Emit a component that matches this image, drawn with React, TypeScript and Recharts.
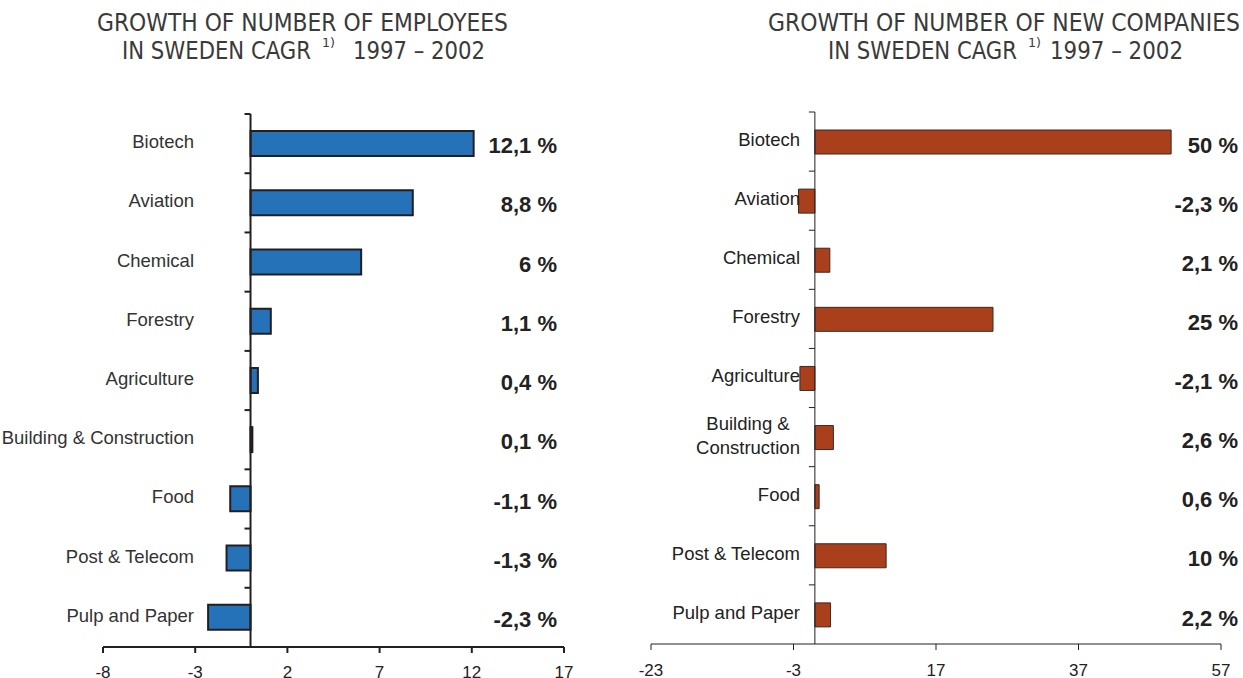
import React from "react";
import { BarChart, Bar, XAxis, YAxis, ReferenceLine, LabelList } from "recharts";

const categories = [
  "Biotech",
  "Aviation",
  "Chemical",
  "Forestry",
  "Agriculture",
  "Building & Construction",
  "Food",
  "Post & Telecom",
  "Pulp and Paper",
];
const companyCategories = [
  "Biotech",
  "Aviation",
  "Chemical",
  "Forestry",
  "Agriculture",
  "Building &\nConstruction",
  "Food",
  "Post & Telecom",
  "Pulp and Paper",
];
const employeeGrowth = [12.1, 8.8, 6, 1.1, 0.4, 0.1, -1.1, -1.3, -2.3];
const employeeLabels = ["12,1 %", "8,8 %", "6 %", "1,1 %", "0,4 %", "0,1 %", "-1,1 %", "-1,3 %", "-2,3 %"];
const companyGrowth = [50, -2.3, 2.1, 25, -2.1, 2.6, 0.6, 10, 2.2];
const companyLabels = ["50 %", "-2,3 %", "2,1 %", "25 %", "-2,1 %", "2,6 %", "0,6 %", "10 %", "2,2 %"];
const employeeTicks = [-8, -3, 2, 7, 12, 17];
const companyTicks = [-23, -3, 17, 37, 57];

const employeeData = categories.map((name, i) => ({ name, v: employeeGrowth[i], label: employeeLabels[i] }));
const companyData = companyCategories.map((name, i) => ({ name, v: companyGrowth[i], label: companyLabels[i] }));

const FONT = "'Liberation Sans', Arial, Helvetica, sans-serif";
const NARROW = "'Liberation Sans Narrow', 'DejaVu Sans Condensed', 'Liberation Sans', sans-serif";
const DARK = "#231f20";

function makeCatTick(shift: number, color: string) {
  return (props: any) => {
    const { x, y, payload } = props;
    const lines = String(payload.value).split("\n");
    if (lines.length > 1) {
      return (
        <g>
          <text x={x + shift - 52} y={y - 14} textAnchor="middle" dy="0.35em" fontSize={18.5} fontFamily={FONT} fill={color}>
            {lines[0]}
          </text>
          <text x={x + shift - 52} y={y + 10} textAnchor="middle" dy="0.35em" fontSize={18.5} fontFamily={FONT} fill={color}>
            {lines[1]}
          </text>
        </g>
      );
    }
    return (
      <text x={x + shift} y={y - 2} textAnchor="end" dy="0.35em" fontSize={18.5} fontFamily={FONT} fill={color}>
        {lines[0]}
      </text>
    );
  };
}

function makeZeroAxis(count: number, stroke: string, width: number, tickLen: number) {
  return (props: any) => {
    const { x1, y1, y2 } = props;
    const top = Math.min(y1, y2);
    const bottom = Math.max(y1, y2);
    const step = (bottom - top) / count;
    const ticks = [];
    for (let i = 0; i < count; i++) {
      const ty = top + i * step;
      ticks.push(<line key={i} x1={x1 - tickLen} x2={x1} y1={ty} y2={ty} stroke={stroke} strokeWidth={width} />);
    }
    return (
      <g>
        <line x1={x1} x2={x1} y1={top} y2={bottom} stroke={stroke} strokeWidth={width} />
        {ticks}
      </g>
    );
  };
}

function makeValueLabel(xEnd: number, data: { label: string }[], dyShift: number) {
  return (props: any) => {
    const { y, height, index } = props;
    return (
      <text
        x={xEnd}
        y={y + height / 2 + dyShift}
        textAnchor="end"
        dy="0.35em"
        fontSize={22}
        fontWeight="bold"
        fontFamily={FONT}
        fill="#222"
      >
        {data[index].label}
      </text>
    );
  };
}

function Titles() {
  const common = { fontFamily: NARROW, fill: "#3a3a3a", lengthAdjust: "spacingAndGlyphs" as const };
  return (
    <svg width={1243} height={70} style={{ position: "absolute", left: 0, top: 0 }}>
      <text x={97} y={31} fontSize={24} textLength={411} {...common}>GROWTH OF NUMBER OF EMPLOYEES</text>
      <text x={122} y={59} fontSize={24} textLength={189} {...common}>IN SWEDEN CAGR</text>
      <text x={322} y={47} fontSize={12} textLength={13} {...common}>1)</text>
      <text x={353} y={59} fontSize={24} textLength={132} {...common}>1997 – 2002</text>

      <text x={768} y={31} fontSize={24} textLength={472} {...common}>GROWTH OF NUMBER OF NEW COMPANIES</text>
      <text x={828} y={59} fontSize={24} textLength={189} {...common}>IN SWEDEN CAGR</text>
      <text x={1028} y={47} fontSize={12} textLength={13} {...common}>1)</text>
      <text x={1050} y={59} fontSize={24} textLength={133} {...common}>1997 – 2002</text>
    </svg>
  );
}

export default function App() {
  return (
    <div style={{ position: "absolute", left: 0, top: 0, width: 1243, height: 678, background: "#fff", overflow: "hidden" }}>
      <Titles />
      <div style={{ position: "absolute", left: 0, top: 0 }}>
        <BarChart
          width={620}
          height={678}
          layout="vertical"
          data={employeeData}
          margin={{ top: 114, right: 56, bottom: 0, left: 0 }}
          barSize={25}
        >
          <XAxis
            type="number"
            domain={[-8, 17]}
            ticks={employeeTicks}
            interval={0}
            height={31}
            tickSize={6}
            tickMargin={13}
            axisLine={{ stroke: DARK, strokeWidth: 2 }}
            tickLine={{ stroke: DARK, strokeWidth: 2 }}
            tick={{ fill: "#222", fontSize: 17, fontFamily: FONT }}
          />
          <YAxis
            type="category"
            dataKey="name"
            width={103}
            interval={0}
            axisLine={false}
            tickLine={false}
            tickSize={0}
            tickMargin={0}
            tick={makeCatTick(91, "#333")}
          />
          <Bar dataKey="v" fill="#2672b8" stroke={DARK} strokeWidth={2} isAnimationActive={false}>
            <LabelList dataKey="label" content={makeValueLabel(557, employeeData, 2)} />
          </Bar>
          <ReferenceLine x={0} shape={makeZeroAxis(9, DARK, 2, 6)} />
        </BarChart>
      </div>
      <div style={{ position: "absolute", left: 620, top: 0 }}>
        <BarChart
          width={623}
          height={678}
          layout="vertical"
          data={companyData}
          margin={{ top: 112, right: 22, bottom: 0, left: 0 }}
          barSize={24}
        >
          <XAxis
            type="number"
            domain={[-23, 57]}
            ticks={companyTicks}
            interval={0}
            height={34}
            tickSize={6}
            tickMargin={14}
            axisLine={{ stroke: DARK, strokeWidth: 1 }}
            tickLine={{ stroke: DARK, strokeWidth: 1 }}
            tick={{ fill: "#222", fontSize: 17, fontFamily: FONT }}
          />
          <YAxis
            type="category"
            dataKey="name"
            width={31}
            interval={0}
            axisLine={false}
            tickLine={false}
            tickSize={0}
            tickMargin={0}
            tick={makeCatTick(149, "#222")}
          />
          <Bar dataKey="v" fill="#aa3f1c" stroke="#3a2a22" strokeWidth={1} isAnimationActive={false}>
            <LabelList dataKey="label" content={makeValueLabel(618, companyData, 3)} />
          </Bar>
          <ReferenceLine x={0} shape={makeZeroAxis(9, DARK, 1, 6)} />
        </BarChart>
      </div>
    </div>
  );
}
